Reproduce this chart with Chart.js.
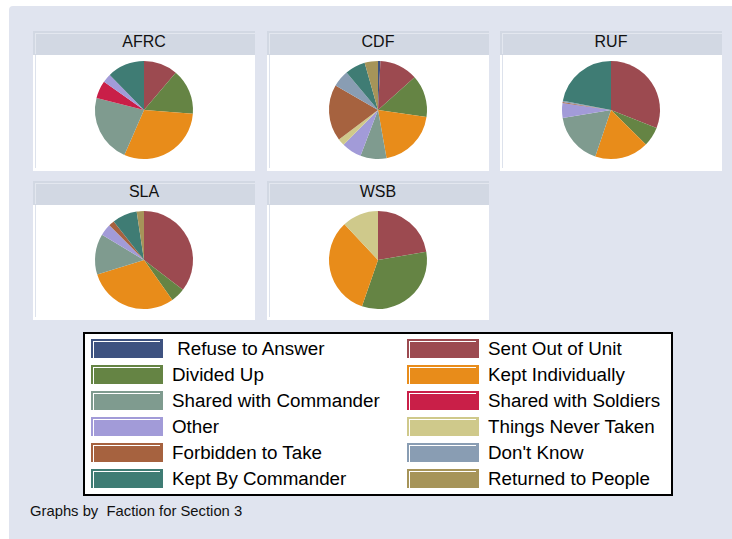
<!DOCTYPE html>
<html>
<head>
<meta charset="utf-8">
<script src="https://cdn.jsdelivr.net/npm/chart.js@4.4.1/dist/chart.umd.min.js"></script>
<style>
  body { margin: 0; background: #fff; font-family: "Liberation Sans", Arial, sans-serif; }
  #graph { position: absolute; left: 9px; top: 6px; width: 723px; height: 533px; background: #e0e4ef; border-top-left-radius: 4px; }
  .panel { position: absolute; width: 222px; }
  .head { position: absolute; left: 0; top: 0; width: 222px; height: 24px; background: #d2d8e3; }
  .head .hl { position: absolute; left: 2px; top: 2px; right: 0; height: 20px; border-top: 1px solid #e3e7ef; border-left: 1px solid #e3e7ef; }
  .head span { position: absolute; left: 0; right: 0; top: 2px; text-align: center; font-size: 16px; color: #111; }
  .plot { position: absolute; left: 0; top: 24px; width: 222px; background: #fff; }
  .plot .vl { position: absolute; left: 2px; top: 0; width: 1px; background: #dde2ec; }
  .plot canvas { position: absolute; left: 0; top: 0; }
  #legend { position: absolute; left: 83px; top: 332px; width: 586px; height: 160px; background: #fff; border: 2px solid #000; }
  .item { position: absolute; height: 20px; }
  .sw { position: absolute; left: 0; top: 0; width: 72px; height: 19px; }
  .sw i { position: absolute; left: 2px; top: 2px; width: 66px; height: 16px; border-top: 1.5px solid #fff; border-left: 1.5px solid #fff; }
  .item span { position: absolute; left: 81px; top: -1px; font-size: 18.8px; color: #000; white-space: pre; }
  #note { position: absolute; left: 30px; top: 503px; font-size: 14.8px; color: #111; white-space: pre; }
</style>
</head>
<body>
<div id="graph"></div>
<div id="panels"></div>
<div id="legend"></div>
<div id="note">Graphs by  Faction for Section 3</div>
<script>
const categories = [
  ' Refuse to Answer', 'Sent Out of Unit', 'Divided Up', 'Kept Individually',
  'Shared with Commander', 'Shared with Soldiers', 'Other', 'Things Never Taken',
  'Forbidden to Take', "Don't Know", 'Kept By Commander', 'Returned to People'
];
const colors = [
  '#3e5280', '#9c4a50', '#658444', '#e88c1a',
  '#7f9b8f', '#c91f48', '#a29bd8', '#cfc98b',
  '#a6623f', '#899db3', '#3f7c74', '#a69459'
];
const factions = ['AFRC', 'CDF', 'RUF', 'SLA', 'WSB'];
// percent of responses, same order as categories
const afrc = [0, 11.2, 15.0, 30.3, 22.4, 5.8, 2.9, 0, 0, 0, 12.3, 0];
const cdf  = [0.8, 12.6, 13.9, 19.9, 8.6, 0, 6.6, 2.3, 18.6, 5.6, 6.7, 4.4];
const ruf  = [0, 31.0, 6.4, 17.8, 17.2, 0, 4.9, 0, 0.3, 0.4, 22.0, 0];
const sla  = [0, 35.4, 4.8, 30.0, 13.4, 0, 3.9, 0, 1.9, 0, 8.2, 2.4];
const wsb  = [0, 22.3, 33.0, 32.7, 0, 0, 0, 12.0, 0, 0, 0, 0];
const values = [afrc, cdf, ruf, sla, wsb];

const slots = [
  { x: 33, y: 31, h: 140 }, { x: 267, y: 31, h: 140 }, { x: 500, y: 31, h: 140 },
  { x: 33, y: 181, h: 139 }, { x: 267, y: 181, h: 139 }
];

const holder = document.getElementById('panels');
factions.forEach((name, i) => {
  const s = slots[i];
  const p = document.createElement('div');
  p.className = 'panel';
  p.style.left = s.x + 'px';
  p.style.top = s.y + 'px';
  p.style.height = s.h + 'px';
  const ph = s.h - 24;
  p.innerHTML = '<div class="head"><div class="hl"></div><span>' + name + '</span></div>' +
    '<div class="plot" style="height:' + ph + 'px"><canvas width="222" height="' + ph + '"></canvas>' +
    '<div class="vl" style="height:' + (ph - 3) + 'px"></div></div>';
  holder.appendChild(p);
  const cv = p.querySelector('canvas');
  new Chart(cv, {
    type: 'pie',
    data: {
      labels: categories,
      datasets: [{ data: values[i], backgroundColor: colors, borderWidth: 0 }]
    },
    options: {
      responsive: false,
      animation: false,
      layout: { padding: { top: 6, bottom: ph - 104 } },
      plugins: { legend: { display: false }, tooltip: { enabled: false } }
    }
  });
});

const leg = document.getElementById('legend');
categories.forEach((c, k) => {
  const col = k % 2, row = Math.floor(k / 2);
  const it = document.createElement('div');
  it.className = 'item';
  it.style.left = (6 + col * 316) + 'px';
  it.style.top = (5 + row * 26) + 'px';
  it.innerHTML = '<div class="sw" style="background:' + colors[k] + '"><i></i></div><span>' + c + '</span>';
  leg.appendChild(it);
});
</script>
</body>
</html>
